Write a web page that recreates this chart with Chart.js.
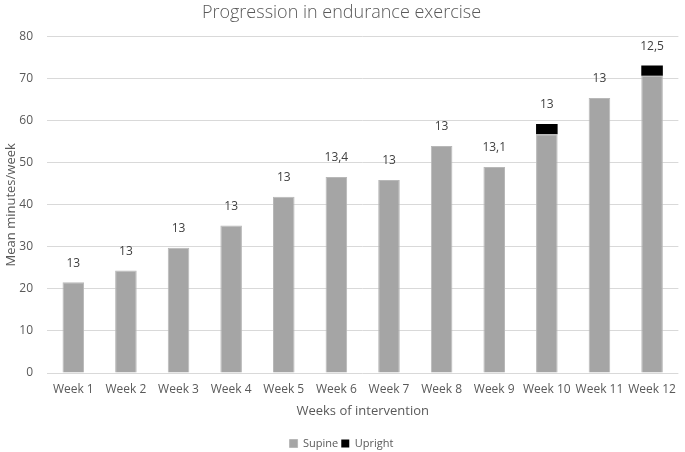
<!DOCTYPE html>
<html>
<head>
<meta charset="utf-8">
<script src="https://cdn.jsdelivr.net/npm/chart.js@4"></script>
<style>
html,body{margin:0;padding:0;background:#fff;}
#wrap{width:685px;height:452px;}
</style>
</head>
<body>
<div id="wrap"><canvas id="c" width="685" height="452"></canvas></div>
<script>
const weeks = ["Week 1","Week 2","Week 3","Week 4","Week 5","Week 6","Week 7","Week 8","Week 9","Week 10","Week 11","Week 12"];
const supine = [21.6,24.4,29.8,35.1,41.9,46.6,45.9,54.0,49.0,56.8,65.4,70.7];
const upright = [0,0,0,0,0,0,0,0,0,2.4,0,2.4];
const topLabels = ["13","13","13","13","13","13,4","13","13","13,1","13","13","12,5"];

const FONT = "'Open Sans', 'Liberation Sans', sans-serif";

const labelPlugin = {
  id: 'topLabels',
  afterDatasetsDraw(chart) {
    const ctx = chart.ctx;
    const y = chart.scales.y;
    const meta = chart.getDatasetMeta(0);
    ctx.save();
    ctx.font = "12px " + FONT;
    ctx.fillStyle = "#404040";
    ctx.textAlign = "center";
    ctx.textBaseline = "middle";
    meta.data.forEach((bar, i) => {
      const total = supine[i] + upright[i];
      const py = y.getPixelForValue(total);
      ctx.fillText(topLabels[i], bar.x, py - 19);
    });
    ctx.restore();
  }
};

new Chart(document.getElementById('c'), {
  type: 'bar',
  data: {
    labels: weeks,
    datasets: [
      { label: 'Supine', data: supine, backgroundColor: '#a5a5a5', borderColor: '#b8b8b8', borderWidth: 1, barPercentage: 0.82, categoryPercentage: 0.5 },
      { label: 'Upright', data: upright, backgroundColor: '#000000', borderWidth: 0, barPercentage: 0.82, categoryPercentage: 0.5 }
    ]
  },
  options: {
    responsive: false,
    animation: false,
    layout: { padding: { left: 0, right: 2, top: 2, bottom: -7 } },
    plugins: {
      title: {
        display: true,
        text: 'Progression in endurance exercise',
        color: '#595959',
        font: { family: FONT, size: 18, weight: '300' },
        padding: { top: 0, bottom: 13 }
      },
      legend: {
        position: 'bottom',
        labels: {
          boxWidth: 8, boxHeight: 8, color: '#595959',
          font: { family: FONT, size: 11 },
          padding: 3
        }
      },
      tooltip: { enabled: false }
    },
    scales: {
      x: {
        stacked: true,
        grid: { display: false, drawTicks: false },
        border: { display: false },
        ticks: { color: '#595959', font: { family: FONT, size: 12 }, padding: 9, maxRotation: 0, autoSkip: false },
        title: { display: true, text: 'Weeks of intervention', color: '#595959', font: { family: FONT, size: 13 }, padding: { top: -2, bottom: 16 } }
      },
      y: {
        stacked: true,
        min: 0, max: 80,
        afterFit(scale) { scale.width = 47; },
        ticks: { stepSize: 10, color: '#595959', font: { family: FONT, size: 12 }, padding: 14 },
        grid: { color: '#d9d9d9', drawTicks: false, lineWidth: 1 },
        border: { display: false },
        title: { display: true, text: 'Mean minutes/week', color: '#595959', font: { family: FONT, size: 13 }, padding: { top: 3, bottom: 0 } }
      }
    }
  },
  plugins: [labelPlugin]
});
</script>
</body>
</html>
